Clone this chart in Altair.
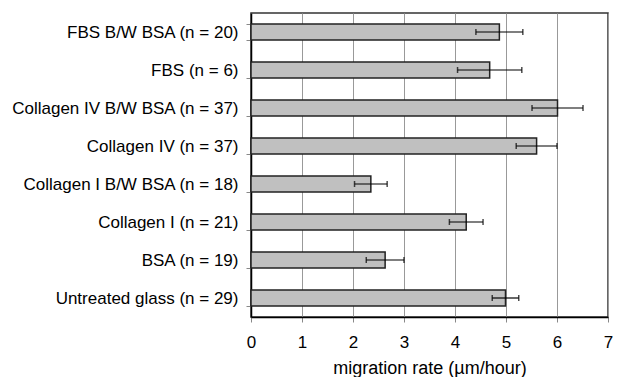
import altair as alt
import pandas as pd

categories = [
    "FBS B/W BSA (n = 20)",
    "FBS (n = 6)",
    "Collagen IV B/W BSA (n = 37)",
    "Collagen IV (n = 37)",
    "Collagen I B/W BSA (n = 18)",
    "Collagen I (n = 21)",
    "BSA (n = 19)",
    "Untreated glass (n = 29)",
]
rates = [4.87, 4.68, 6.01, 5.60, 2.35, 4.22, 2.63, 4.99]
errors = [0.46, 0.63, 0.50, 0.40, 0.32, 0.33, 0.37, 0.26]

df = pd.DataFrame({"cat": categories, "rate": rates, "err": errors})
df["lo"] = df["rate"] - df["err"]
df["hi"] = df["rate"] + df["err"]

FONT = "Liberation Sans"
FS = 17

yenc = alt.Y(
    "cat:N",
    sort=categories,
    title=None,
    scale=alt.Scale(paddingInner=0.58, paddingOuter=0.29),
    axis=alt.Axis(
        tickBand="extent",
        labelFontSize=FS,
        labelColor="black",
        labelFont=FONT,
        labelPadding=8,
        tickSize=5,
        tickColor="#888888",
        domainColor="black",
        domainWidth=1.5,
        labelLimit=300,
    ),
)
xscale = alt.Scale(domain=[0, 7], nice=False)

bars = alt.Chart(df).mark_bar(
    fill="#c0c0c0", stroke="#222222", strokeWidth=1.5
).encode(
    x=alt.X(
        "rate:Q",
        scale=xscale,
        title="migration rate (µm/hour)",
        axis=alt.Axis(
            values=list(range(8)),
            format="d",
            labelFlush=False,
            grid=True,
            gridColor="#999999",
            gridWidth=1,
            labelFontSize=FS,
            labelColor="black",
            labelFont=FONT,
            titleFontSize=18,
            titleFont=FONT,
            titleFontWeight="normal",
            titleColor="black",
            titlePadding=9,
            labelPadding=12,
            tickSize=5,
            tickColor="#888888",
            domainColor="black",
            domainWidth=1.5,
        ),
    ),
    y=yenc,
)

rule = alt.Chart(df).mark_rule(color="black", strokeWidth=1.2).encode(
    x=alt.X("lo:Q", scale=xscale),
    x2="hi:Q",
    y=alt.Y("cat:N", sort=categories),
)
cap_lo = alt.Chart(df).mark_tick(color="black", size=6, thickness=1.5).encode(
    x=alt.X("lo:Q", scale=xscale),
    y=alt.Y("cat:N", sort=categories),
)
cap_hi = alt.Chart(df).mark_tick(color="black", size=6, thickness=1.5).encode(
    x=alt.X("hi:Q", scale=xscale),
    y=alt.Y("cat:N", sort=categories),
)

chart = (
    alt.layer(bars, rule, cap_lo, cap_hi)
    .properties(
        width=357,
        height=304,
        autosize=alt.AutoSizeParams(type="none"),
        padding={"left": 243, "top": 5, "right": 6, "bottom": 60},
    )
    .configure_view(stroke="#333333", strokeWidth=1.5)
)

chart.save("out.html", embed_options={"renderer": "svg", "actions": False})
